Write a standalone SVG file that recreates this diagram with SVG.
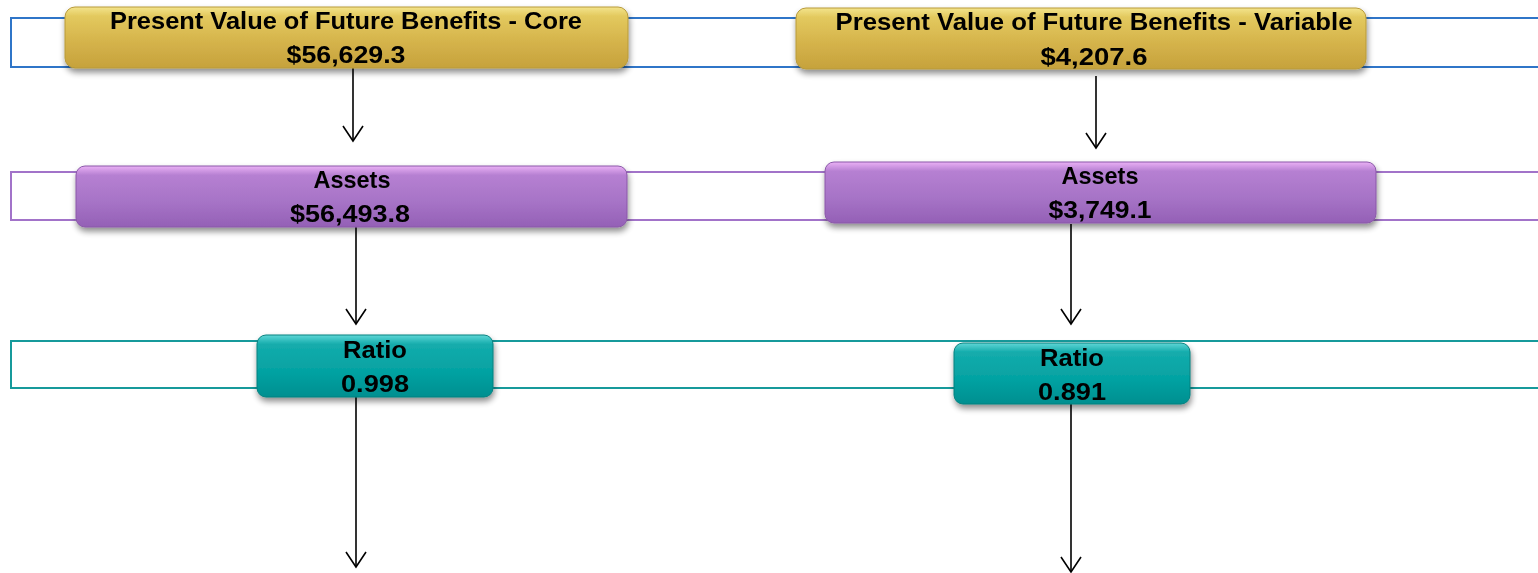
<svg xmlns="http://www.w3.org/2000/svg" width="1538" height="573" viewBox="0 0 1538 573">
<defs>
<linearGradient id="gy" x1="0" y1="0" x2="0" y2="1">
<stop offset="0" stop-color="#f3e48c"/><stop offset="0.15" stop-color="#e3c95e"/><stop offset="0.6" stop-color="#d4b24a"/><stop offset="1" stop-color="#c6a23c"/>
</linearGradient>
<linearGradient id="gp" x1="0" y1="0" x2="0" y2="1">
<stop offset="0" stop-color="#eab0f5"/><stop offset="0.15" stop-color="#b680d2"/><stop offset="0.6" stop-color="#a673c6"/><stop offset="1" stop-color="#9460b6"/>
</linearGradient>
<linearGradient id="gt" x1="0" y1="0" x2="0" y2="1">
<stop offset="0" stop-color="#5fd6d6"/><stop offset="0.15" stop-color="#14acac"/><stop offset="0.6" stop-color="#04a2a2"/><stop offset="1" stop-color="#008f90"/>
</linearGradient>
<filter id="sh" x="-10%" y="-30%" width="120%" height="170%">
<feGaussianBlur in="SourceAlpha" stdDeviation="3"/><feOffset dx="1" dy="4"/>
<feComponentTransfer><feFuncA type="linear" slope="0.45"/></feComponentTransfer>
<feMerge><feMergeNode/><feMergeNode in="SourceGraphic"/></feMerge>
</filter>
<marker id="ah" markerWidth="24" markerHeight="24" refX="21" refY="12" orient="auto" markerUnits="userSpaceOnUse" viewBox="0 0 24 24">
<path d="M6,2 L21,12 L6,22" fill="none" stroke="#000" stroke-width="1.6"/>
</marker>
</defs>
<style>
.t{font-family:"Liberation Sans",Arial,sans-serif;font-weight:bold;font-size:24px;fill:#000;text-anchor:middle}
.c{stroke:#000;stroke-width:1.6;fill:none;marker-end:url(#ah)}
.node{filter:url(#sh)}
</style>
<rect width="1538" height="573" fill="#fff"/>
<g id="bands" fill="none" stroke-width="2">
<rect x="11" y="18" width="1540" height="49" stroke="#2f75c8"/>
<rect x="11" y="172" width="1540" height="48" stroke="#a273c9"/>
<rect x="11" y="341" width="1540" height="47" stroke="#169a9b"/>
</g>
<g id="connectors">
<line class="c" x1="353" y1="68" x2="353" y2="141"/>
<line class="c" x1="1096" y1="76" x2="1096" y2="148"/>
<line class="c" x1="356" y1="227" x2="356" y2="324"/>
<line class="c" x1="1071" y1="224" x2="1071" y2="324"/>
<line class="c" x1="356" y1="397" x2="356" y2="567"/>
<line class="c" x1="1071" y1="404" x2="1071" y2="572"/>
</g>
<g id="pvfb-core" class="node">
<rect x="65" y="7" width="563" height="61" rx="10" fill="url(#gy)" stroke="#b89a3a" stroke-width="1"/>
<text class="t" x="346" y="29" textLength="472" lengthAdjust="spacingAndGlyphs">Present Value of Future Benefits - Core</text>
<text class="t" x="346" y="63" textLength="119" lengthAdjust="spacingAndGlyphs">$56,629.3</text>
</g>
<g id="pvfb-variable" class="node">
<rect x="796" y="8" width="570" height="61" rx="10" fill="url(#gy)" stroke="#b89a3a" stroke-width="1"/>
<text class="t" x="1094" y="30" textLength="517" lengthAdjust="spacingAndGlyphs">Present Value of Future Benefits - Variable</text>
<text class="t" x="1094" y="65" textLength="107" lengthAdjust="spacingAndGlyphs">$4,207.6</text>
</g>
<g id="assets-core" class="node">
<rect x="76" y="166" width="551" height="61" rx="9" fill="url(#gp)" stroke="#8a58a8" stroke-width="1"/>
<text class="t" x="352" y="188" textLength="77" lengthAdjust="spacingAndGlyphs">Assets</text>
<text class="t" x="350" y="222" textLength="120" lengthAdjust="spacingAndGlyphs">$56,493.8</text>
</g>
<g id="assets-variable" class="node">
<rect x="825" y="162" width="551" height="61" rx="9" fill="url(#gp)" stroke="#8a58a8" stroke-width="1"/>
<text class="t" x="1100" y="184" textLength="77" lengthAdjust="spacingAndGlyphs">Assets</text>
<text class="t" x="1100" y="218" textLength="103" lengthAdjust="spacingAndGlyphs">$3,749.1</text>
</g>
<g id="ratio-core" class="node">
<rect x="257" y="335" width="236" height="62" rx="9" fill="url(#gt)" stroke="#08807f" stroke-width="1"/>
<text class="t" x="375" y="358" textLength="64" lengthAdjust="spacingAndGlyphs">Ratio</text>
<text class="t" x="375" y="392" textLength="68" lengthAdjust="spacingAndGlyphs">0.998</text>
</g>
<g id="ratio-variable" class="node">
<rect x="954" y="343" width="236" height="61" rx="9" fill="url(#gt)" stroke="#08807f" stroke-width="1"/>
<text class="t" x="1072" y="366" textLength="64" lengthAdjust="spacingAndGlyphs">Ratio</text>
<text class="t" x="1072" y="400" textLength="68" lengthAdjust="spacingAndGlyphs">0.891</text>
</g>
</svg>
